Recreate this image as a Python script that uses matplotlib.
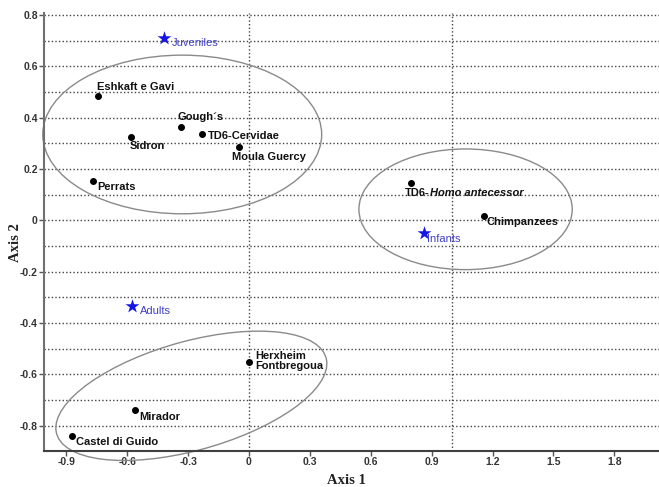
import numpy as np
import matplotlib
matplotlib.use("Agg")
import matplotlib.pyplot as plt
from matplotlib.patches import Ellipse
from matplotlib.ticker import FixedLocator, MultipleLocator

# ---------------- data ----------------
site_names = ["Eshkaft e Gavi", "Gough\u00b4s", "Sidron", "TD6-Cervidae", "Moula Guercy",
              "Perrats", "TD6-", "Chimpanzees", "Herxheim\nFontbregoua", "Mirador",
              "Castel di Guido"]
site_x = [-0.742, -0.335, -0.583, -0.233, -0.049, -0.770, 0.798, 1.159, 0.0, -0.562, -0.870]
site_y = [0.486, 0.365, 0.326, 0.335, 0.288, 0.153, 0.145, 0.017, -0.552, -0.740, -0.840]
italic_suffix = {"TD6-": "Homo antecessor"}

age_names = ["Juveniles", "Infants", "Adults"]
age_x = [-0.419, 0.864, -0.575]
age_y = [0.712, -0.048, -0.332]

# ellipses: center x, center y, width, height, angle (data units)
ell_cx = [-0.329, 1.067, -0.284]
ell_cy = [0.335, 0.0435, -0.683]
ell_w = [1.374, 1.051, 1.361]
ell_h = [0.618, 0.470, 0.429]
ell_ang = [0.0, 0.0, 11.8]

x_ticks = [-0.9, -0.6, -0.3, 0.0, 0.3, 0.6, 0.9, 1.2, 1.5, 1.8]
x_ticklabels = ["-0.9", "-0.6", "-0.3", "0", "0.3", "0.6", "0.9", "1.2", "1.5", "1.8"]
y_ticks = [-0.8, -0.6, -0.4, -0.2, 0.0, 0.2, 0.4, 0.6, 0.8]
y_ticklabels = ["-0.8", "-0.6", "-0.4", "-0.2", "0", "0.2", "0.4", "0.6", "0.8"]
v_grid = [0.0, 1.0]

# ---------------- layout / style ----------------
label_offsets = {  # pixels (dx, dy)
    "Eshkaft e Gavi": (-1.6, 9), "Gough\u00b4s": (-4, 9.3), "Sidron": (-1.4, -9),
    "TD6-Cervidae": (6.6, -1.3), "Moula Guercy": (-6.7, -10.7), "Perrats": (5, -6),
    "TD6-": (-6, -9.7), "Chimpanzees": (2.4, -6), "Herxheim\nFontbregoua": (6.7, 1),
    "Mirador": (4.3, -7), "Castel di Guido": (3.4, -5.4),
    "Juveniles": (8.3, -5), "Infants": (3, -6), "Adults": (7.7, -5.4),
}

sans = ["Liberation Sans", "DejaVu Sans"]
serif = ["Liberation Serif", "DejaVu Serif"]
grid_style = dict(color="#444444", linestyle=(0, (1, 1.6)), linewidth=1.0)

fig = plt.figure(figsize=(6.59, 4.87), dpi=100)
ax = fig.add_axes([44 / 659, 1 - 451 / 487, 615 / 659, (451 - 13.3) / 487])
ax.set_xlim(-1.01, 2.02)
ax.set_ylim(-0.898, 0.807)

# grid
ax.yaxis.set_major_locator(FixedLocator(y_ticks))
ax.yaxis.set_minor_locator(MultipleLocator(0.1))
ax.grid(axis="y", which="both", **grid_style)
for gx in v_grid:
    ax.axvline(gx, zorder=1, **grid_style)
ax.set_axisbelow(True)

# ellipses
for cx, cy, w, h, a in zip(ell_cx, ell_cy, ell_w, ell_h, ell_ang):
    ax.add_patch(Ellipse((cx, cy), w, h, angle=a, facecolor="none",
                         edgecolor="#8a8a8a", linewidth=1.0, zorder=2, clip_on=False))

# site points
ax.scatter(site_x, site_y, s=16, color="black", zorder=4)
for name, x, y in zip(site_names, site_x, site_y):
    dx, dy = label_offsets[name]
    t = ax.annotate(name, (x, y), xytext=(dx, dy), textcoords="offset pixels",
                    ha="left", va="center", fontsize=8, fontweight="bold",
                    family=sans, color="#111111", zorder=5, linespacing=1.0)
    if name in italic_suffix:
        ax.annotate(italic_suffix[name], xy=(1, 0), xycoords=t, ha="left", va="bottom",
                    fontsize=8, fontweight="bold", fontstyle="italic",
                    family=sans, color="#111111", zorder=5)

# age group stars
ax.scatter(age_x, age_y, s=110, marker="*", color="#1515e6", zorder=4, linewidths=0)
for name, x, y in zip(age_names, age_x, age_y):
    dx, dy = label_offsets[name]
    ax.annotate(name, (x, y), xytext=(dx, dy), textcoords="offset pixels",
                ha="left", va="center", fontsize=8, family=sans,
                color="#4040c8", zorder=5)

# axes styling
for s in ["top", "right"]:
    ax.spines[s].set_visible(False)
ax.spines["left"].set_color("#707070")
ax.spines["left"].set_linewidth(1.5)
ax.spines["bottom"].set_color("#404040")
ax.spines["bottom"].set_linewidth(1.5)

ax.set_xticks(x_ticks)
ax.set_xticklabels(x_ticklabels)
ax.set_yticklabels(y_ticklabels)
ax.tick_params(axis="both", which="major", length=3.5, width=1.0, color="#555555",
               labelsize=7.5, labelcolor="#333333", pad=1)
ax.tick_params(axis="y", which="minor", length=0)
for lab in ax.get_xticklabels() + ax.get_yticklabels():
    lab.set_fontweight("bold")
    lab.set_family(sans)

ax.set_xlabel("Axis 1", fontsize=10.5, fontweight="bold", family=serif, color="#222222",
              va="center")
ax.xaxis.set_label_coords(0.491, -0.0685)
ax.set_ylabel("Axis 2", fontsize=10.5, fontweight="bold", family=serif, color="#222222",
              va="center")
ax.yaxis.set_label_coords(-0.047, 0.477)

fig.savefig("out.png", dpi=100)
